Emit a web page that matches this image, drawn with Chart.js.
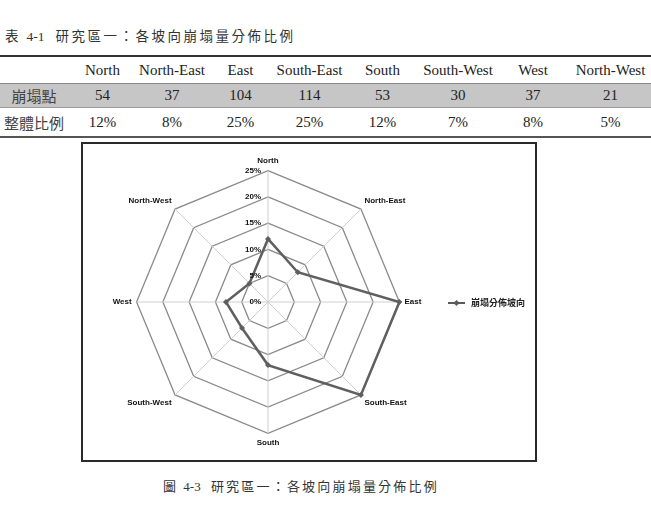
<!DOCTYPE html>
<html>
<head>
<meta charset="utf-8">
<script src="https://cdn.jsdelivr.net/npm/chart.js@4/dist/chart.umd.min.js"></script>
<style>
  html, body { margin: 0; padding: 0; background: #fff; }
  body { width: 651px; height: 508px; position: relative; overflow: hidden; }
  .cap { position: absolute; font-family: "Noto Sans CJK TC", sans-serif; color: #333; white-space: nowrap; }
  .cap .num { font-family: "Liberation Serif", serif; letter-spacing: 0; }
  #tbl { position: absolute; left: 0; top: 55px; width: 651px; }
  .row { position: absolute; left: 0; width: 651px; }
  .cell { position: absolute; top: 0; height: 100%; display: flex; align-items: center; justify-content: center;
          font-family: "Liberation Serif", serif; font-size: 15px; color: #222; white-space: nowrap; }
  .cell.zh { font-family: "Noto Sans CJK TC", sans-serif; color: #444; font-size: 15px; }
  #box { position: absolute; left: 81px; top: 142px; width: 456px; height: 320px; box-sizing: border-box;
         border: 2px solid #2a2a2a; background: #fff; }
  #wrap { position: absolute; left: 0; top: 0; width: 452px; height: 316px; }
</style>
</head>
<body>
<div class="cap" style="left:5px; top:25px; font-size:13.5px; letter-spacing:2.5px;">表 <span class="num">4-1</span>&nbsp;&nbsp;研究區一：各坡向崩塌量分佈比例</div>
<div id="tbl"></div>
<div id="box"><div id="wrap"><canvas id="c"></canvas></div></div>
<div class="cap" style="left:163px; top:476px; font-size:13px; letter-spacing:2.2px;">圖 <span class="num">4-3</span>&nbsp;&nbsp;研究區一：各坡向崩塌量分佈比例</div>
<script>
// ---- data ----
const directions = ['North', 'North-East', 'East', 'South-East', 'South', 'South-West', 'West', 'North-West'];
const collapseCounts = [54, 37, 104, 114, 53, 30, 37, 21];
const overallRatio = [12, 8, 25, 25, 12, 7, 8, 5];
const tickValues = [0, 5, 10, 15, 20, 25];
const rowLabels = ['崩塌點', '整體比例'];
const seriesName = '崩塌分佈坡向';

// ---- table ----
const colEdges = [0, 68, 137, 207, 274, 345, 420, 496, 570, 651];
const tbl = document.getElementById('tbl');
function makeRow(top, height, cells, style) {
  const r = document.createElement('div');
  r.className = 'row';
  r.style.top = top + 'px';
  r.style.height = height + 'px';
  Object.assign(r.style, style || {});
  cells.forEach((txt, i) => {
    const c = document.createElement('div');
    c.className = 'cell' + (i === 0 ? ' zh' : '');
    c.style.left = colEdges[i] + 'px';
    c.style.width = (colEdges[i + 1] - colEdges[i]) + 'px';
    c.textContent = txt;
    r.appendChild(c);
  });
  tbl.appendChild(r);
}
makeRow(0, 28, [''].concat(directions), { borderTop: '2px solid #333', boxSizing: 'border-box' });
makeRow(28, 25, [rowLabels[0]].concat(collapseCounts.map(String)), { background: '#c6c6c6', borderTop: '1px solid #8a8a8a', borderBottom: '1px solid #9a9a9a', boxSizing: 'border-box' });
makeRow(53, 30, [rowLabels[1]].concat(overallRatio.map(v => v + '%')), { borderBottom: '2px solid #555', boxSizing: 'border-box' });

// ---- legend marker (line with diamond) ----
const mk = document.createElement('canvas');
mk.width = 22; mk.height = 8;
(function () {
  const g = mk.getContext('2d');
  g.strokeStyle = '#5a5a5a'; g.lineWidth = 2;
  g.beginPath(); g.moveTo(3, 4); g.lineTo(20, 4); g.stroke();
  g.fillStyle = '#5a5a5a';
  g.beginPath(); g.moveTo(11.5, 1); g.lineTo(14.5, 4); g.lineTo(11.5, 7); g.lineTo(8.5, 4); g.closePath(); g.fill();
})();

const labelFont = '"Liberation Sans", "Arial", sans-serif';

const tickPlugin = {
  id: 'tickText',
  afterDatasetsDraw(chart) {
    const s = chart.scales.r;
    const ctx = chart.ctx;
    ctx.save();
    ctx.font = 'bold 8px ' + labelFont;
    ctx.fillStyle = '#111';
    ctx.textAlign = 'right';
    ctx.textBaseline = 'middle';
    tickValues.forEach(v => {
      const p = s.getPointPositionForValue(0, v);
      ctx.fillText(v + '%', p.x - 7, p.y);
    });
    ctx.restore();
  }
};

new Chart(document.getElementById('c'), {
  type: 'radar',
  data: {
    labels: directions,
    datasets: [{
      label: seriesName,
      data: overallRatio,
      borderColor: '#5f5f5f',
      backgroundColor: '#5f5f5f',
      borderWidth: 2.5,
      fill: false,
      pointStyle: 'rectRot',
      pointRadius: 3,
      pointBackgroundColor: '#5f5f5f',
      pointBorderColor: '#5f5f5f',
      pointBorderWidth: 0
    }]
  },
  options: {
    responsive: true,
    maintainAspectRatio: false,
    animation: false,
    layout: { padding: { left: 17, right: 0, top: 13, bottom: 11 } },
    plugins: {
      legend: {
        position: 'right',
        labels: {
          usePointStyle: true,
          pointStyleWidth: 21,
          color: '#222',
          font: { family: '"Noto Sans CJK TC", sans-serif', size: 9, weight: 'bold' },
          generateLabels(chart) {
            return chart.data.datasets.map((d, i) => ({
              text: d.label, pointStyle: mk, datasetIndex: i, fontColor: '#222',
              strokeStyle: d.borderColor, fillStyle: d.borderColor, lineWidth: 0
            }));
          }
        }
      },
      tooltip: { enabled: false }
    },
    scales: {
      r: {
        min: 0, max: 25,
        ticks: { stepSize: 5, display: false },
        grid: { color: '#8a8a8a', lineWidth: 1.3 },
        angleLines: { color: '#cfcfcf', lineWidth: 1 },
        pointLabels: {
          padding: 5,
          color: '#111',
          font: { family: labelFont, size: 8, weight: 'bold' }
        }
      }
    }
  },
  plugins: [tickPlugin]
});
</script>
</body>
</html>
